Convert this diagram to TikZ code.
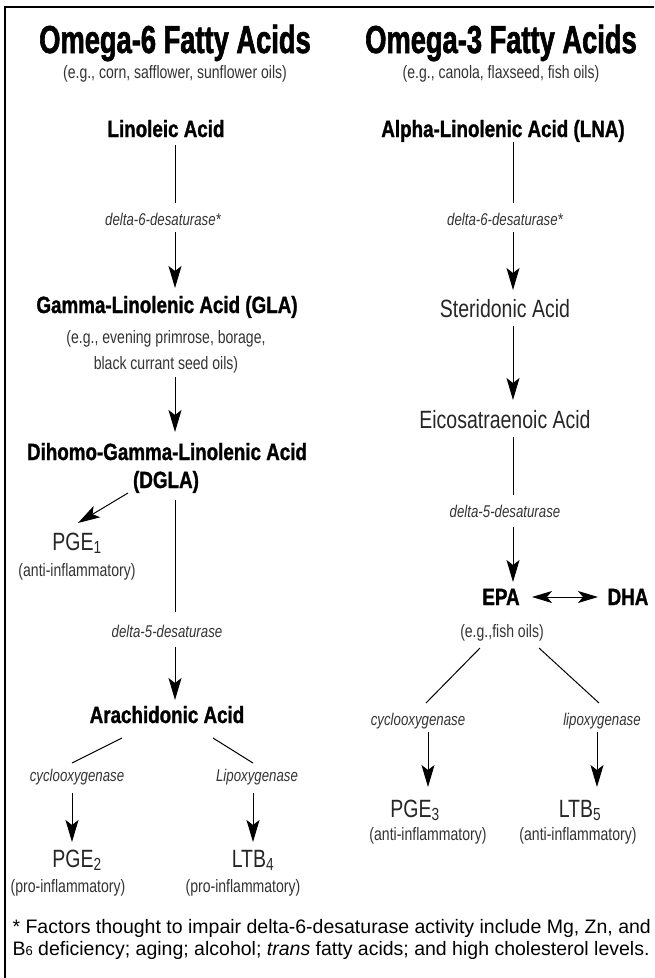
\documentclass[tikz,border=0pt]{standalone}
\usepackage{fontspec}
\setmainfont{Liberation Sans}
\newfontfamily\headfont[FakeStretch=0.70,FakeBold=1.6]{Liberation Sans}
\newfontfamily\acidfont[FakeStretch=0.80,FakeBold=1.2]{Liberation Sans}
\newfontfamily\lightfont[FakeStretch=0.78]{Liberation Sans}
\usetikzlibrary{arrows.meta}

\tikzset{
  headline/.style={anchor=base, font=\headfont\bfseries\fontsize{39}{40}\selectfont},
  acid/.style={anchor=base, font=\acidfont\bfseries\fontsize{23.5}{25}\selectfont},
  note/.style={anchor=base, text=black!80, font=\lightfont\fontsize{18}{20}\selectfont},
  enzyme/.style={anchor=base, text=black!80, font=\lightfont\itshape\fontsize{17}{19}\selectfont},
  product/.style={anchor=base, text=black!85, font=\lightfont\fontsize{25}{27}\selectfont},
  foot/.style={anchor=base west, font=\fontsize{19.5}{21}\selectfont},
  link/.style={line width=1pt},
  arr/.style={line width=1pt, -{Stealth[length=22pt,width=13pt,inset=5pt]}},
  arrs/.style={line width=1pt, {Stealth[length=20pt,width=12pt,inset=5pt]}-{Stealth[length=20pt,width=12pt,inset=5pt]}}
}

\begin{document}
\begin{tikzpicture}[x=1pt, y=-1pt]
    \useasboundingbox (0,0) rectangle (654,978);
    \draw[line width=1.5pt, line join=miter] (5,978) -- (5,7) -- (654,7); % frame

    % Omega-6 column
    \node[headline] (title6) at (175,53) {Omega-6 Fatty Acids};
    \node[note] (sub6) at (175,78) {(e.g., corn, safflower, sunflower oils)};
    \node[acid] (lin) at (166,137) {Linoleic Acid};
    \node[enzyme] (d6a) at (163,225) {delta-6-desaturase*};
    \node[acid] (gla) at (167,313) {Gamma-Linolenic Acid (GLA)};
    \node[note] (glaa) at (166,343) {(e.g., evening primrose, borage,};
    \node[note] (glab) at (166,369) {black currant seed oils)};
    \node[acid] (dglaa) at (167,460) {Dihomo-Gamma-Linolenic Acid};
    \node[acid] (dglab) at (166,488) {(DGLA)};
    \node[product] (pge1) at (77,550) {PGE\textsubscript{1}};
    \node[note] (anti1) at (77,576) {(anti-inflammatory)};
    \node[enzyme] (d5a) at (167,637) {delta-5-desaturase};
    \node[acid] (ara) at (167,723) {Arachidonic Acid};
    \node[enzyme] (coxa) at (77,781) {cyclooxygenase};
    \node[enzyme] (loxa) at (257,781) {Lipoxygenase};
    \node[product] (pge2) at (77,867) {PGE\textsubscript{2}};
    \node[note] (pro2) at (68,892) {(pro-inflammatory)};
    \node[product] (ltb4) at (253,867) {LTB\textsubscript{4}};
    \node[note] (pro4) at (243,892) {(pro-inflammatory)};

    \draw[link] ([shift={(9,8)}]lin.base) -- ([shift={(12,-22)}]d6a.base);
    \draw[arr] ([shift={(12,7)}]d6a.base) -- ([shift={(8,-25)}]gla.base);
    \draw[arr] ([shift={(9,8)}]glab.base) -- ([shift={(8,-28)}]dglaa.base);
    \draw[arr] ([shift={(-38,5)}]dglab.base) -- ([shift={(1,-27)}]pge1.base);
    \draw[link] ([shift={(9,12)}]dglab.base) -- ([shift={(8,-25)}]d5a.base);
    \draw[arr] ([shift={(8,10)}]d5a.base) -- ([shift={(8,-23)}]ara.base);
    \draw[link] ([shift={(-45,15)}]ara.base) -- ([shift={(-5,-18)}]coxa.base);
    \draw[link] ([shift={(46,15)}]ara.base) -- ([shift={(-4,-18)}]loxa.base);
    \draw[arr] ([shift={(-5,12)}]coxa.base) -- ([shift={(-5,-25)}]pge2.base);
    \draw[arr] ([shift={(-4,12)}]loxa.base) -- ([shift={(0,-25)}]ltb4.base);

    % Omega-3 column
    \node[headline] (title3) at (501,53) {Omega-3 Fatty Acids};
    \node[note] (sub3) at (501,78) {(e.g., canola, flaxseed, fish oils)};
    \node[acid] (lna) at (503,137) {Alpha-Linolenic Acid (LNA)};
    \node[enzyme] (d6b) at (505,225) {delta-6-desaturase*};
    \node[product] (ster) at (505,317) {Steridonic Acid};
    \node[product] (eico) at (505,428) {Eicosatraenoic Acid};
    \node[enzyme] (d5b) at (505,517) {delta-5-desaturase};
    \node[acid] (epa) at (501,605) {EPA};
    \node[acid] (dha) at (628,605) {DHA};
    \node[note] (fish) at (502,637) {(e.g.,fish oils)};
    \node[enzyme] (coxb) at (418,725) {cyclooxygenase};
    \node[enzyme] (loxb) at (602,725) {lipoxygenase};
    \node[product] (pge3) at (415,817) {PGE\textsubscript{3}};
    \node[note] (anti3) at (428,840) {(anti-inflammatory)};
    \node[product] (ltb5) at (580,817) {LTB\textsubscript{5}};
    \node[note] (anti5) at (578,840) {(anti-inflammatory)};

    \draw[link] ([shift={(10,5)}]lna.base) -- ([shift={(8,-22)}]d6b.base);
    \draw[arr] ([shift={(8,7)}]d6b.base) -- ([shift={(8,-27)}]ster.base);
    \draw[arr] ([shift={(8,9)}]ster.base) -- ([shift={(8,-28)}]eico.base);
    \draw[link] ([shift={(8,9)}]eico.base) -- ([shift={(8,-22)}]d5b.base);
    \draw[arr] ([shift={(8,10)}]d5b.base) -- ([shift={(12,-23)}]epa.base);
    \draw[arrs] ([shift={(31,-8)}]epa.base) -- ([shift={(-30,-8)}]dha.base); % EPA <-> DHA
    \draw[link] ([shift={(-22,11)}]fish.base) -- ([shift={(8,-22)}]coxb.base);
    \draw[link] ([shift={(37,11)}]fish.base) -- ([shift={(-3,-22)}]loxb.base);
    \draw[arr] ([shift={(10,7)}]coxb.base) -- ([shift={(13,-30)}]pge3.base);
    \draw[arr] ([shift={(-5,7)}]loxb.base) -- ([shift={(17,-30)}]ltb5.base);

    % footnote
    \node[foot] (foota) at (9,933) {* Factors thought to impair delta-6-desaturase activity include Mg, Zn, and};
    \node[foot] (footb) at (9,955) {B{\fontsize{13}{13}\selectfont 6} deficiency; aging; alcohol; \textit{trans} fatty acids; and high cholesterol levels.};
\end{tikzpicture}
\end{document}
